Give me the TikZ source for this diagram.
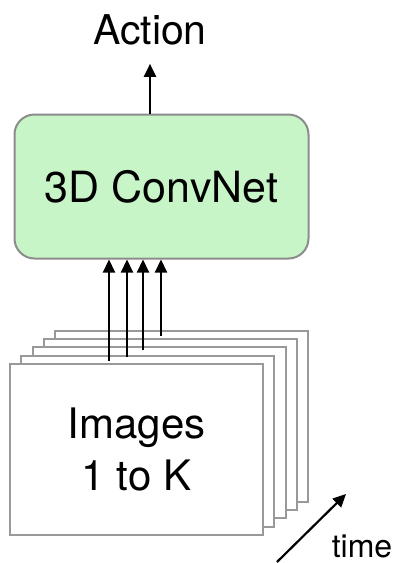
\documentclass[tikz,border=0pt]{standalone}
\usepackage{fontspec}
\setmainfont{TeX Gyre Heros}
\usetikzlibrary{arrows.meta}
\definecolor{netgreen}{RGB}{199,245,199}
\begin{document}
\begin{tikzpicture}[x=1pt,y=-1pt,
        imgbox/.style={draw=gray!80,line width=2pt,fill=white,minimum width=253pt,minimum height=171pt,inner sep=0pt},
        netbox/.style={draw=gray!90,line width=2pt,fill=netgreen,rounded corners=20pt,minimum width=294pt,minimum height=144pt},
        arr/.style={line width=2.2pt,-{Triangle[length=13pt,width=12pt]}}]
    \useasboundingbox (0,0) rectangle (400,563);
    % stack of input frames, back to front
    \node[imgbox] (img4) at (181,416) {};
    \node[imgbox] (img3) at (170.5,424) {};
    \node[imgbox] (img2) at (159.5,432.5) {};
    \node[imgbox] (img1) at (147.5,441.5) {};
    \node[imgbox,align=center,font=\fontsize{42}{52}\selectfont] (img0) at (136.5,449.5) {Images\\1 to K};
    \node[netbox,font=\fontsize{43}{52}\selectfont] (net) at (161.5,186.5) {3D ConvNet};
    \node[font=\fontsize{41}{48}\selectfont,anchor=base,inner sep=0pt] (action) at (150,44) {Action};
    \draw[arr,shorten >=19pt] (net.north -| action) -- (action.south);
    % four inputs going up into the net
    \coordinate (in1) at (109,361);
    \coordinate (in2) at (127,357);
    \coordinate (in3) at (143,350);
    \coordinate (in4) at (161,336);
    \draw[arr] (in1) -- (in1 |- net.south);
    \draw[arr] (in2) -- (in2 |- net.south);
    \draw[arr] (in3) -- (in3 |- net.south);
    \draw[arr] (in4) -- (in4 |- net.south);
    % time axis
    \coordinate (t0) at (277,562);
    \coordinate (t1) at (346,494);
    \draw[arr] (t0) -- (t1);
    \node[font=\fontsize{32}{38}\selectfont,anchor=base] (time) at (362,557) {time};
\end{tikzpicture}
\end{document}
